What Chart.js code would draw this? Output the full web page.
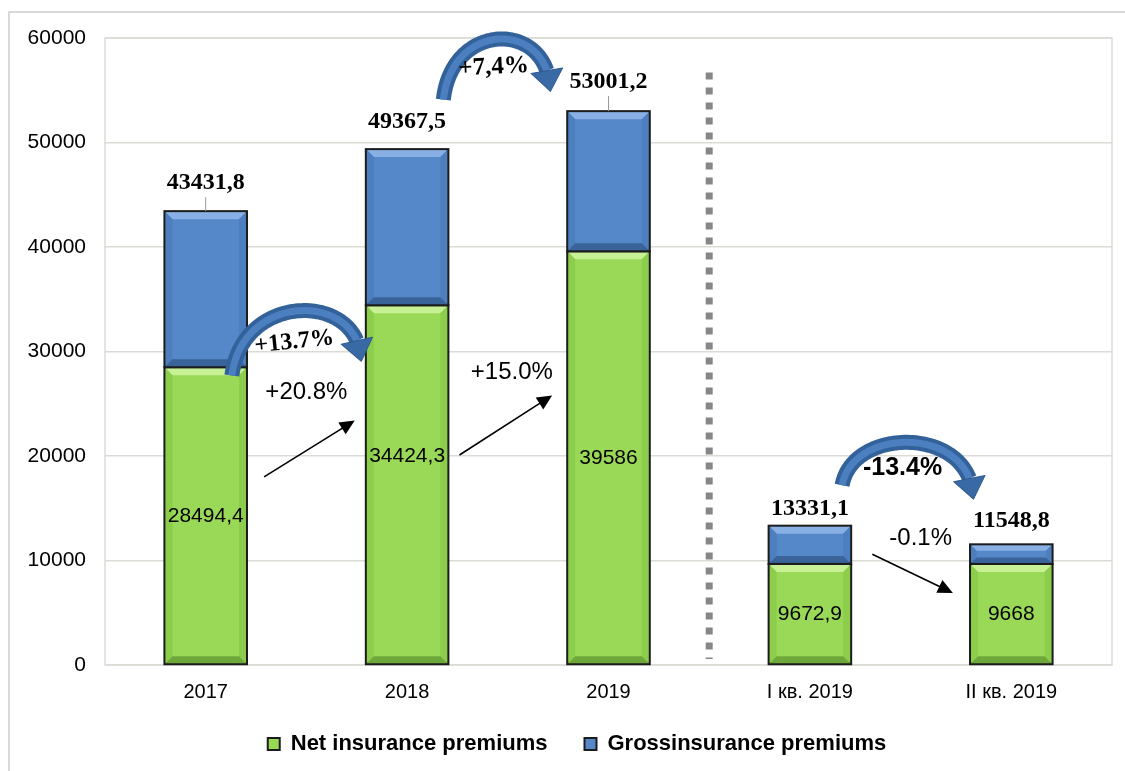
<!DOCTYPE html>
<html>
<head>
<meta charset="utf-8">
<script src="https://cdn.jsdelivr.net/npm/chart.js@4.4.1/dist/chart.umd.min.js"></script>
<style>
  html, body { margin: 0; padding: 0; background: #fff; overflow: hidden; }
  #wrap { width: 1125px; height: 771px; position: relative; }
</style>
</head>
<body>
<div id="wrap"><canvas id="chart"></canvas></div>
<script>
// Dữ liệu biểu đồ
const categories = ["2017", "2018", "2019", "I кв. 2019", "II кв. 2019"];
const netPremiums = [28494.4, 34424.3, 39586, 9672.9, 9668];
const grossPremiums = [43431.8, 49367.5, 53001.2, 13331.1, 11548.8];
const netLabels = ["28494,4", "34424,3", "39586", "9672,9", "9668"];
const grossLabels = ["43431,8", "49367,5", "53001,2", "13331,1", "11548,8"];
const yTickValues = [0, 10000, 20000, 30000, 40000, 50000, 60000];

// phần xanh dương = gross - net
const grossPart = grossPremiums.map((g, i) => +(g - netPremiums[i]).toFixed(1));

// Chú thích mũi tên (theo trục: x = chỉ số danh mục, y = giá trị)
const curvedArrows = [
  { x0: 0.13, y0: 27700, x1: 0.77, y1: 29300, peak: 33900, text: "+13.7%", tx: 0.44, ty: 30900, rot: -6, font: "bold 24px 'Liberation Serif', 'Times New Roman', serif" },
  { x0: 1.18, y0: 54100, x1: 1.71, y1: 55100, peak: 59900, text: "+7,4%", tx: 1.43, ty: 57200, rot: -3, font: "bold 25px 'Liberation Serif', 'Times New Roman', serif" },
  { x0: 3.16, y0: 17200, x1: 3.81, y1: 16100, peak: 21300, text: "-13.4%", tx: 3.46, ty: 18800, rot: 0, font: "bold 25px 'Liberation Sans', Arial, sans-serif" }
];
const straightArrows = [
  { x0: 0.29, y0: 18000, x1: 0.74, y1: 23400, text: "+20.8%", tx: 0.50, ty: 26100 },
  { x0: 1.26, y0: 20100, x1: 1.72, y1: 25800, text: "+15.0%", tx: 1.52, ty: 28000 },
  { x0: 3.31, y0: 10600, x1: 3.71, y1: 6900, text: "-0.1%", tx: 3.55, ty: 12100 }
];
const totalLift = [28, 27, 29, 17, 24];
const leaderLines = [true, false, true, false, false];
const netShift = [0, -29, 0, 0, 0];

Chart.defaults.font.family = "'Liberation Sans', Arial, sans-serif";
Chart.defaults.color = "#000";

function shade(ctx, el, light, dark, side) {
  const { x, y, base, width } = el.getProps(["x", "y", "base", "width"], true);
  const l = x - width / 2, r = x + width / 2, t = Math.min(y, base), b = Math.max(y, base);
  const d = Math.min(8, (b - t) / 3);
  ctx.save();
  ctx.fillStyle = light;
  ctx.beginPath(); ctx.moveTo(l, t); ctx.lineTo(r, t); ctx.lineTo(r - d, t + d); ctx.lineTo(l + d, t + d); ctx.closePath(); ctx.fill();
  ctx.fillStyle = side;
  ctx.beginPath(); ctx.moveTo(l, t); ctx.lineTo(l + d, t + d); ctx.lineTo(l + d, b - d); ctx.lineTo(l, b); ctx.closePath(); ctx.fill();
  ctx.beginPath(); ctx.moveTo(r, t); ctx.lineTo(r - d, t + d); ctx.lineTo(r - d, b - d); ctx.lineTo(r, b); ctx.closePath(); ctx.fill();
  ctx.fillStyle = dark;
  ctx.beginPath(); ctx.moveTo(l, b); ctx.lineTo(r, b); ctx.lineTo(r - d, b - d); ctx.lineTo(l + d, b - d); ctx.closePath(); ctx.fill();
  ctx.strokeStyle = "#1c1c1c"; ctx.lineWidth = 2;
  ctx.strokeRect(l, t, r - l, b - t);
  ctx.restore();
}

function bezierPoint(p, t) {
  const u = 1 - t;
  return {
    x: u*u*u*p[0].x + 3*u*u*t*p[1].x + 3*u*t*t*p[2].x + t*t*t*p[3].x,
    y: u*u*u*p[0].y + 3*u*u*t*p[1].y + 3*u*t*t*p[2].y + t*t*t*p[3].y
  };
}

const decorPlugin = {
  id: "decor",
  afterLayout(chart) {
    // trục x thấp (để chú giải sát hơn) nhưng không cắt nhãn
    chart.scales.x.bottom += 20;
    // dịch chú giải sang phải
    chart.legend.left += 16;
    chart.legend.right += 16;
  },
  beforeDraw(chart) {
    const ctx = chart.ctx;
    ctx.save();
    ctx.strokeStyle = "#d9d9d9"; ctx.lineWidth = 2;
    ctx.beginPath(); ctx.moveTo(9, 800); ctx.lineTo(9, 12); ctx.lineTo(1130, 12); ctx.stroke();
    ctx.restore();
  },
  afterDraw(chart) {
    const ctx = chart.ctx, xs = chart.scales.x, ys = chart.scales.y, a = chart.chartArea;
    // khung vùng vẽ
    ctx.save();
    ctx.strokeStyle = "#dcdcd6"; ctx.lineWidth = 1.5;
    ctx.strokeRect(a.left, a.top, a.right - a.left, a.bottom - a.top);
    ctx.restore();

    // hiệu ứng nổi cho cột
    const m0 = chart.getDatasetMeta(0), m1 = chart.getDatasetMeta(1);
    m0.data.forEach(el => shade(ctx, el, "#c8f095", "#6fa83a", "#8ccd4b"));
    m1.data.forEach(el => shade(ctx, el, "#88b0e4", "#3a6399", "#4d7ebd"));

    // đường chấm phân cách
    const xd = xs.getPixelForValue(2.5);
    ctx.save();
    ctx.strokeStyle = "#878787"; ctx.lineWidth = 7; ctx.setLineDash([7, 8]);
    ctx.beginPath(); ctx.moveTo(xd, ys.getPixelForValue(56700)); ctx.lineTo(xd, ys.getPixelForValue(0) - 6); ctx.stroke();
    ctx.restore();

    // nhãn tổng và nhãn net
    ctx.save();
    ctx.textAlign = "center"; ctx.textBaseline = "middle";
    m1.data.forEach((el, i) => {
      const top = el.y;
      if (leaderLines[i]) {
        ctx.strokeStyle = "#999"; ctx.lineWidth = 1;
        ctx.beginPath(); ctx.moveTo(el.x, top - totalLift[i] + 14); ctx.lineTo(el.x, top); ctx.stroke();
      }
      ctx.fillStyle = "#000";
      ctx.font = "bold 24px 'Liberation Serif', 'Times New Roman', serif";
      ctx.fillText(grossLabels[i], el.x, top - totalLift[i]);
    });
    ctx.font = "21px 'Liberation Sans', Arial, sans-serif";
    m0.data.forEach((el, i) => {
      ctx.fillText(netLabels[i], el.x, (el.y + el.base) / 2 + netShift[i]);
    });
    ctx.restore();

    // mũi tên thẳng
    straightArrows.forEach(s => {
      const x0 = xs.getPixelForValue(s.x0), y0 = ys.getPixelForValue(s.y0);
      const x1 = xs.getPixelForValue(s.x1), y1 = ys.getPixelForValue(s.y1);
      const ang = Math.atan2(y1 - y0, x1 - x0);
      ctx.save();
      ctx.strokeStyle = "#000"; ctx.fillStyle = "#000"; ctx.lineWidth = 1.6;
      ctx.beginPath(); ctx.moveTo(x0, y0); ctx.lineTo(x1 - 12 * Math.cos(ang), y1 - 12 * Math.sin(ang)); ctx.stroke();
      ctx.translate(x1, y1); ctx.rotate(ang);
      ctx.beginPath(); ctx.moveTo(0, 0); ctx.lineTo(-15, -7); ctx.lineTo(-15, 7); ctx.closePath(); ctx.fill();
      ctx.restore();
      ctx.save();
      ctx.font = "24px 'Liberation Sans', Arial, sans-serif";
      ctx.textAlign = "center"; ctx.textBaseline = "middle"; ctx.fillStyle = "#000";
      ctx.fillText(s.text, xs.getPixelForValue(s.tx), ys.getPixelForValue(s.ty));
      ctx.restore();
    });

    // mũi tên cong
    curvedArrows.forEach(c => {
      const x0 = xs.getPixelForValue(c.x0), y0 = ys.getPixelForValue(c.y0);
      const x3 = xs.getPixelForValue(c.x1), y3 = ys.getPixelForValue(c.y1);
      const yp = ys.getPixelForValue(c.peak);
      const cy = (yp - 0.125 * (y0 + y3)) / 0.75;
      const w = x3 - x0;
      const pts = [{ x: x0, y: y0 }, { x: x0 + w * 0.08, y: cy }, { x: x3 - w * 0.02, y: cy }, { x: x3, y: y3 }];
      // tìm điểm chân đầu mũi tên
      let tb = 1;
      for (let t = 1; t > 0.5; t -= 0.005) {
        const p = bezierPoint(pts, t);
        if (Math.hypot(p.x - x3, p.y - y3) >= 18) { tb = t; break; }
      }
      const path = [];
      for (let t = 0; t <= tb + 1e-6; t += tb / 60) path.push(bezierPoint(pts, t));
      const bp = path[path.length - 1];
      const ang = Math.atan2(y3 - bp.y, x3 - bp.x);
      ctx.save();
      ctx.lineCap = "butt"; ctx.lineJoin = "round";
      ctx.beginPath(); path.forEach((p, k) => k ? ctx.lineTo(p.x, p.y) : ctx.moveTo(p.x, p.y));
      ctx.strokeStyle = "#33629b"; ctx.lineWidth = 15; ctx.stroke();
      ctx.strokeStyle = "#4b7fc0"; ctx.lineWidth = 7; ctx.stroke();
      ctx.translate(bp.x, bp.y); ctx.rotate(ang);
      ctx.beginPath(); ctx.moveTo(21, 0); ctx.lineTo(0, -16); ctx.lineTo(0, 16); ctx.closePath();
      ctx.fillStyle = "#3a6aa6"; ctx.fill();
      ctx.strokeStyle = "#2f5a8e"; ctx.lineWidth = 1; ctx.stroke();
      ctx.restore();
      ctx.save();
      ctx.font = c.font; ctx.fillStyle = "#000"; ctx.textAlign = "center"; ctx.textBaseline = "middle";
      ctx.translate(xs.getPixelForValue(c.tx), ys.getPixelForValue(c.ty));
      ctx.rotate(c.rot * Math.PI / 180);
      ctx.fillText(c.text, 0, 0);
      ctx.restore();
    });
  }
};

new Chart(document.getElementById("chart"), {
  type: "bar",
  data: {
    labels: categories,
    datasets: [
      { label: "Net insurance premiums", data: netPremiums, backgroundColor: "#9ad957", borderColor: "#1c1c1c", borderWidth: 2, borderSkipped: false },
      { label: "Grossinsurance premiums", data: grossPart, backgroundColor: "#5588c8", borderColor: "#1c1c1c", borderWidth: 2, borderSkipped: false }
    ]
  },
  options: {
    responsive: true,
    maintainAspectRatio: false,
    animation: false,
    devicePixelRatio: 1,
    layout: { padding: { left: 10, right: 13, top: 38, bottom: 6 } },
    datasets: { bar: { categoryPercentage: 1, barPercentage: 0.41 } },
    plugins: {
      tooltip: { enabled: false },
      legend: {
        position: "bottom",
        labels: {
          boxWidth: 12, boxHeight: 12, padding: 37,
          font: { size: 22, weight: "bold" }, color: "#000"
        }
      }
    },
    scales: {
      x: {
        stacked: true,
        afterFit: s => { s.height = 31; },
        grid: { display: false, drawTicks: false },
        border: { display: false },
        ticks: { padding: 15, font: { size: 20 }, color: "#000" }
      },
      y: {
        stacked: true,
        min: 0, max: 60000,
        afterFit: s => { s.width = 95; },
        afterBuildTicks: s => { s.ticks = yTickValues.map(v => ({ value: v })); },
        grid: { color: "#dcdcd6", lineWidth: 1.5, drawTicks: false },
        border: { display: false },
        ticks: { padding: 19, font: { size: 21 }, color: "#000", callback: v => String(v) }
      }
    }
  },
  plugins: [decorPlugin]
});
</script>
</body>
</html>
